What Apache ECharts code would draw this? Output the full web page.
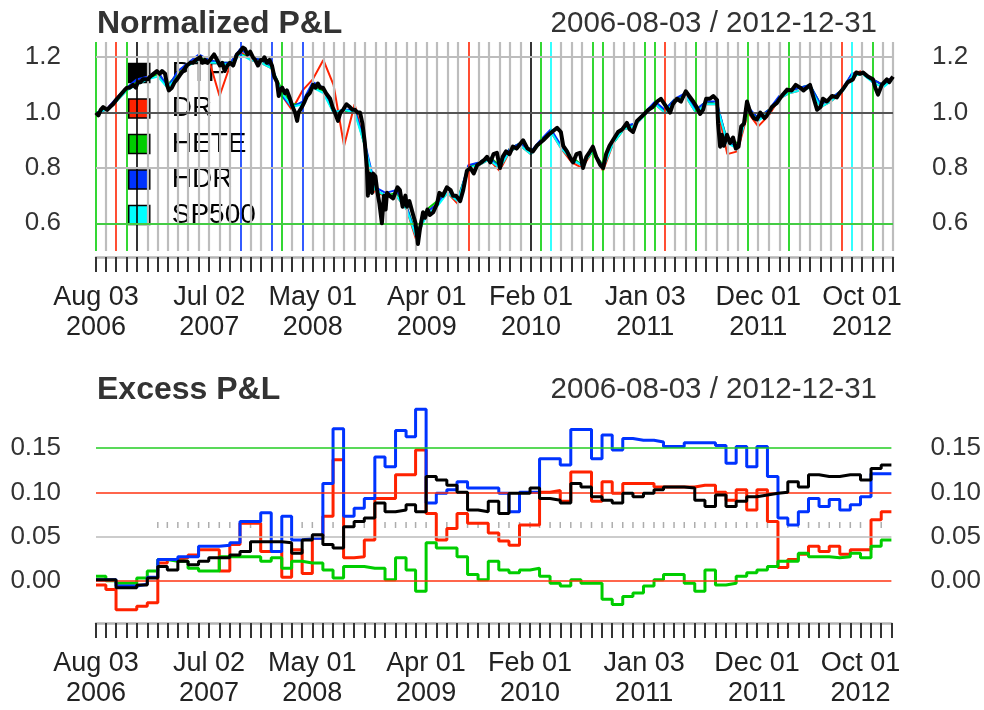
<!DOCTYPE html>
<html>
<head>
<meta charset="utf-8">
<script src="https://cdn.jsdelivr.net/npm/echarts@6/dist/echarts.min.js"></script>
<style>html,body{margin:0;background:#fff}#main{width:984px;height:710px}</style>
</head>
<body>
<div id="main"></div>
<script>
// 数据
var names = ['PTF', 'DR', 'HETE', 'HDR', 'SP500'];
var colors = {PTF: '#000000', DR: '#ff2200', HETE: '#00cd00', HDR: '#0033ff', SP500: '#00ffff'};
var dateRange = '2006-08-03 / 2012-12-31';
var labelDates = ['2006-08-03', '2007-07-02', '2008-05-01', '2009-04-01', '2010-02-01', '2011-01-03', '2011-12-01', '2012-10-01'];
var monNames = ['Jan','Feb','Mar','Apr','May','Jun','Jul','Aug','Sep','Oct','Nov','Dec'];

// month index -> strategy picked (coloured vertical lines)
var monthPick = {0:'HETE', 2:'DR', 3:'HETE', 4:'PTF', 14:'HDR', 17:'HDR', 18:'HETE', 20:'HDR',
    36:'DR', 42:'PTF', 43:'HETE', 44:'SP500', 48:'HETE', 49:'HETE', 53:'HETE', 54:'HETE',
    55:'DR', 58:'HETE', 63:'HETE', 67:'HETE', 72:'DR', 73:'SP500', 75:'HETE'};

// PTF normalized P&L
var ptfDates = [
    '2006-08-03','2006-08-10','2006-08-17','2006-08-24','2006-09-05','2006-09-13','2006-09-22','2006-10-04','2006-10-11',
    '2006-10-18','2006-10-25','2006-11-02','2006-11-10','2006-11-20','2006-11-28','2006-12-04','2006-12-12','2006-12-19',
    '2007-01-02','2007-01-09','2007-01-19','2007-01-29','2007-02-06','2007-02-13','2007-02-22','2007-02-28','2007-03-05',
    '2007-03-14','2007-03-22','2007-03-29','2007-04-09','2007-04-16','2007-04-27','2007-05-07','2007-05-15','2007-05-24',
    '2007-06-05','2007-06-12','2007-06-19','2007-06-27','2007-07-04','2007-07-16','2007-07-25','2007-08-02','2007-08-09',
    '2007-08-16','2007-08-24','2007-09-01','2007-09-10','2007-09-21','2007-09-30','2007-10-09','2007-10-15','2007-10-22',
    '2007-10-30','2007-11-07','2007-11-14','2007-11-22','2007-11-30','2007-12-07','2007-12-11','2007-12-18','2007-12-26',
    '2008-01-02','2008-01-09','2008-01-17','2008-01-22','2008-01-26','2008-02-01','2008-02-09','2008-02-15','2008-02-24',
    '2008-03-03','2008-03-10','2008-03-16','2008-03-20','2008-03-30','2008-04-07','2008-04-14','2008-04-22','2008-05-02',
    '2008-05-09','2008-05-16','2008-05-23','2008-05-31','2008-06-09','2008-06-21','2008-06-28','2008-07-05','2008-07-14',
    '2008-07-21','2008-07-29','2008-08-08','2008-08-18','2008-08-26','2008-09-02','2008-09-10','2008-09-17','2008-09-24',
    '2008-10-01','2008-10-07','2008-10-10','2008-10-14','2008-10-16','2008-10-22','2008-10-25','2008-11-01','2008-11-06',
    '2008-11-13','2008-11-20','2008-11-26','2008-12-01','2008-12-05','2008-12-12','2008-12-23',
    '2009-01-05','2009-01-12','2009-01-20','2009-01-28','2009-02-02','2009-02-09','2009-02-20','2009-02-27','2009-03-06',
    '2009-03-12','2009-03-21','2009-03-27','2009-04-03','2009-04-10','2009-04-20','2009-05-01','2009-05-08','2009-05-18',
    '2009-05-30','2009-06-10','2009-06-17','2009-06-26','2009-07-08','2009-07-17','2009-07-28','2009-08-07','2009-08-17',
    '2009-08-27','2009-09-08','2009-09-18','2009-09-25','2009-10-05','2009-10-14','2009-10-24','2009-11-02','2009-11-10',
    '2009-11-20','2009-11-30','2009-12-10','2009-12-21',
    '2010-01-09','2010-01-22','2010-02-07','2010-02-18','2010-03-09','2010-03-25','2010-04-19','2010-04-30','2010-05-07',
    '2010-05-18','2010-05-26','2010-06-05','2010-06-15','2010-06-25','2010-07-04','2010-07-14','2010-07-25','2010-08-02',
    '2010-08-12','2010-08-24','2010-09-01','2010-09-10','2010-09-20','2010-09-30','2010-10-15','2010-10-28','2010-11-10',
    '2010-11-18','2010-11-28','2010-12-10','2010-12-27',
    '2011-01-12','2011-01-25','2011-02-07','2011-02-18','2011-03-01','2011-03-17','2011-03-25','2011-04-06','2011-04-18',
    '2011-05-02','2011-05-12','2011-05-24','2011-06-03','2011-06-13','2011-06-22','2011-07-01','2011-07-12','2011-07-22',
    '2011-08-02','2011-08-05','2011-08-11','2011-08-16','2011-08-22','2011-08-31','2011-09-09','2011-09-18','2011-09-26',
    '2011-10-04','2011-10-12','2011-10-20','2011-10-29','2011-11-08','2011-11-18','2011-11-27','2011-12-07','2011-12-19',
    '2011-12-27',
    '2012-01-10','2012-01-25','2012-02-08','2012-02-24','2012-03-08','2012-03-20','2012-04-02','2012-04-12','2012-05-01',
    '2012-05-10','2012-05-22','2012-06-01','2012-06-08','2012-06-20','2012-07-05','2012-07-19','2012-07-27','2012-08-06',
    '2012-08-20','2012-09-04','2012-09-14','2012-09-25','2012-10-04','2012-10-18','2012-11-02','2012-11-09','2012-11-17',
    '2012-11-28','2012-12-13','2012-12-20','2012-12-31'];
var ptfValues = [
    1.00,0.99,1.01,1.02,1.01,1.02,1.03,1.05,1.06,
    1.07,1.08,1.09,1.09,1.10,1.09,1.11,1.11,1.12,
    1.12,1.13,1.14,1.15,1.14,1.15,1.14,1.10,1.08,
    1.09,1.11,1.12,1.14,1.15,1.17,1.18,1.18,1.19,
    1.20,1.18,1.19,1.18,1.19,1.21,1.19,1.17,1.18,
    1.15,1.17,1.18,1.17,1.21,1.22,1.235,1.23,1.21,
    1.22,1.20,1.19,1.17,1.19,1.19,1.20,1.18,1.19,
    1.17,1.13,1.11,1.06,1.08,1.09,1.07,1.08,1.05,
    1.02,1.00,0.97,1.00,1.02,1.04,1.06,1.07,1.10,
    1.09,1.105,1.09,1.09,1.07,1.05,1.02,1.00,0.97,
    1.00,1.01,1.03,1.02,1.01,1.01,1.00,1.00,0.96,
    0.89,0.80,0.70,0.78,0.73,0.71,0.78,0.77,0.72,
    0.67,0.60,0.70,0.65,0.71,0.70,0.69,
    0.73,0.72,0.66,0.70,0.66,0.68,0.63,0.60,0.525,
    0.58,0.64,0.62,0.65,0.63,0.64,0.67,0.71,0.70,
    0.73,0.72,0.70,0.70,0.68,0.72,0.79,0.80,0.78,
    0.81,0.82,0.83,0.84,0.82,0.85,0.855,0.80,0.84,
    0.86,0.85,0.877,0.87,
    0.90,0.87,0.86,0.88,0.90,0.92,0.945,0.93,0.88,
    0.86,0.84,0.82,0.85,0.855,0.80,0.84,0.86,0.877,
    0.84,0.81,0.80,0.85,0.88,0.90,0.93,0.94,0.963,
    0.94,0.93,0.97,0.99,
    1.01,1.02,1.04,1.05,1.03,1.00,1.03,1.05,1.04,
    1.077,1.06,1.04,1.02,0.995,1.01,1.05,1.05,1.06,
    1.045,0.96,0.877,0.92,0.88,0.92,0.89,0.91,0.87,
    0.877,0.95,0.96,1.04,1.00,0.98,0.975,1.00,0.98,
    0.99,
    1.02,1.035,1.06,1.083,1.08,1.10,1.09,1.08,1.10,
    1.06,1.01,1.02,1.05,1.04,1.06,1.055,1.07,1.085,
    1.11,1.12,1.145,1.14,1.145,1.13,1.12,1.09,1.065,
    1.10,1.12,1.11,1.13];

// other strategies, monthly (77 month starts + 2012-12-31)
var drTop = [1.00,1.01,1.05,1.09,1.11,1.13,1.14,1.09,1.14,1.18,
    1.20,1.19,1.06,1.17,1.22,1.19,1.18,1.16,1.06,1.01,
    1.08,1.12,1.19,1.10,0.88,1.03,0.88,0.71,0.70,0.70,
    0.65,0.54,0.64,0.67,0.71,0.67,0.79,0.81,0.83,0.79,
    0.86,0.88,0.85,0.89,0.93,0.87,0.82,0.80,0.86,0.79,
    0.89,0.94,0.95,0.99,1.03,1.00,1.04,1.06,1.00,1.03,
    1.03,0.85,0.86,1.00,0.95,0.99,1.05,1.07,1.08,1.10,
    1.02,1.04,1.07,1.14,1.15,1.12,1.10,1.13];
var heteTop = [1.00,1.01,1.04,1.08,1.11,1.12,1.14,1.10,1.14,1.17,
    1.20,1.19,1.18,1.18,1.21,1.20,1.19,1.16,1.08,1.03,
    1.03,1.09,1.08,1.00,1.00,1.01,0.88,0.72,0.70,0.71,
    0.66,0.56,0.65,0.68,0.72,0.69,0.80,0.82,0.84,0.81,
    0.87,0.89,0.86,0.89,0.93,0.88,0.84,0.81,0.86,0.81,
    0.89,0.94,0.96,1.00,1.03,1.01,1.05,1.06,1.01,1.04,
    1.03,0.90,0.89,1.01,0.98,1.01,1.05,1.08,1.09,1.10,
    1.03,1.05,1.08,1.13,1.14,1.12,1.10,1.12];
var hdrTop = [1.00,1.01,1.05,1.09,1.12,1.13,1.15,1.09,1.15,1.18,
    1.21,1.19,1.18,1.18,1.23,1.20,1.19,1.17,1.06,1.02,
    1.04,1.11,1.09,1.00,1.01,1.01,0.89,0.73,0.71,0.72,
    0.66,0.55,0.64,0.67,0.72,0.68,0.81,0.82,0.84,0.80,
    0.87,0.89,0.86,0.90,0.94,0.88,0.83,0.81,0.87,0.80,
    0.90,0.95,0.96,1.00,1.04,1.01,1.05,1.07,1.01,1.04,
    1.04,0.89,0.88,1.02,0.98,1.01,1.06,1.08,1.09,1.10,
    1.03,1.05,1.08,1.14,1.14,1.12,1.10,1.13];
var spTop = [1.00,1.01,1.04,1.08,1.10,1.12,1.13,1.09,1.13,1.17,
    1.19,1.18,1.18,1.17,1.21,1.19,1.18,1.16,1.07,1.02,
    1.03,1.09,1.07,1.00,1.01,1.00,0.88,0.72,0.70,0.70,
    0.65,0.55,0.63,0.66,0.71,0.68,0.80,0.81,0.83,0.80,
    0.86,0.88,0.85,0.89,0.93,0.87,0.83,0.81,0.86,0.80,
    0.89,0.94,0.95,0.99,1.03,1.00,1.04,1.06,1.00,1.03,
    1.03,0.89,0.87,1.01,0.97,1.00,1.05,1.07,1.08,1.09,
    1.02,1.04,1.07,1.13,1.14,1.11,1.09,1.12];

// excess P&L, monthly steps
var ptfEx = [0.001,0.001,-0.008,-0.008,-0.005,0.003,0.016,0.012,0.022,0.018,
    0.022,0.026,0.026,0.029,0.033,0.044,0.044,0.044,0.043,0.031,
    0.046,0.052,0.041,0.037,0.061,0.067,0.071,0.088,0.078,0.080,
    0.086,0.078,0.118,0.114,0.108,0.100,0.080,0.078,0.090,0.076,
    0.099,0.099,0.105,0.093,0.091,0.088,0.110,0.106,0.095,0.091,
    0.088,0.099,0.095,0.099,0.103,0.106,0.106,0.105,0.091,0.084,
    0.097,0.084,0.090,0.095,0.097,0.099,0.100,0.112,0.106,0.120,
    0.118,0.118,0.120,0.120,0.114,0.127,0.131,0.131];
var drEx = [-0.005,-0.010,-0.033,-0.033,-0.029,-0.025,0.020,0.024,0.026,0.029,
    0.035,0.035,0.011,0.041,0.065,0.065,0.033,0.033,0.004,0.035,
    0.008,0.048,0.073,0.137,0.026,0.027,0.046,0.093,0.093,0.120,
    0.120,0.148,0.076,0.046,0.059,0.076,0.065,0.065,0.054,0.045,
    0.040,0.063,0.063,0.100,0.102,0.090,0.123,0.123,0.090,0.112,
    0.099,0.110,0.110,0.110,0.106,0.106,0.106,0.106,0.108,0.108,
    0.100,0.091,0.103,0.080,0.103,0.067,0.015,0.024,0.030,0.039,
    0.033,0.039,0.030,0.035,0.035,0.069,0.078,0.078];
var heteEx = [0.005,0.000,-0.003,-0.003,0.003,0.011,0.024,0.022,0.022,0.014,
    0.011,0.011,0.027,0.027,0.027,0.027,0.022,0.026,0.014,0.022,
    0.020,0.020,0.012,0.003,0.016,0.016,0.014,0.014,0.001,0.026,
    0.012,-0.012,0.043,0.037,0.037,0.027,0.007,0.001,0.022,0.012,
    0.009,0.012,0.014,0.005,-0.003,-0.006,0.001,-0.003,-0.003,-0.021,
    -0.027,-0.018,-0.014,-0.006,0.001,0.007,0.007,-0.003,-0.012,0.012,
    -0.005,-0.003,0.005,0.009,0.012,0.016,0.022,0.022,0.031,0.027,
    0.027,0.026,0.027,0.031,0.026,0.039,0.046,0.046];
var hdrEx = [0.001,0.001,-0.006,-0.006,-0.004,0.004,0.024,0.024,0.027,0.027,
    0.039,0.039,0.040,0.043,0.067,0.067,0.077,0.033,0.073,0.046,
    0.048,0.048,0.110,0.172,0.073,0.082,0.093,0.140,0.129,0.170,
    0.163,0.194,0.088,0.099,0.103,0.112,0.105,0.105,0.105,0.099,
    0.078,0.100,0.100,0.138,0.138,0.131,0.171,0.171,0.138,0.165,
    0.148,0.161,0.159,0.159,0.157,0.152,0.152,0.156,0.156,0.156,
    0.153,0.133,0.152,0.129,0.152,0.118,0.071,0.063,0.078,0.093,
    0.084,0.092,0.080,0.086,0.095,0.121,0.121,0.121];
var dotLevel = 0.063;

var topTicks = [0.6, 0.8, 1.0, 1.2];
var botTicks = [0.00, 0.05, 0.10, 0.15];

// 日期
function ts(s) { var p = s.split('-'); return new Date(+p[0], p[1] - 1, +p[2]).getTime(); }
var startTs = ts('2006-08-03'), endTs = ts('2012-12-31');
var monthTs = [startTs];
for (var i = 1; i < 77; i++) monthTs.push(new Date(2006, 7 + i, 1).getTime());
var monthAll = monthTs.concat([endTs]);
var labelTs = labelDates.map(ts);

function pairs(xs, ys) { return xs.map(function (x, i) { return [x, ys[i]]; }); }
function pad(n) { return (n < 10 ? '0' : '') + n; }

var sans = '"Liberation Sans", Arial, sans-serif';

function xAxisFor(idx, off) {
    return {
        type: 'value', gridIndex: idx, min: startTs, max: endTs, offset: off, scale: true,
        axisLine: {show: true, onZero: false, lineStyle: {color: '#b5b5b5', width: 2.5}},
        axisTick: {show: true, customValues: monthAll, length: 15, lineStyle: {color: '#333', width: 2}},
        axisLabel: {
            customValues: labelTs, margin: 26, color: '#222', fontFamily: sans, fontSize: 27, lineHeight: 30,
            formatter: function (v) {
                var d = new Date(v);
                return monNames[d.getMonth()] + ' ' + pad(d.getDate()) + '\n' + d.getFullYear();
            }
        },
        splitLine: {show: false}
    };
}
function yAxisFor(idx, pos, min, max, ticks, dec) {
    return {
        type: 'value', gridIndex: idx, position: pos, min: min, max: max,
        axisLine: {show: false}, axisTick: {show: false}, splitLine: {show: false},
        axisLabel: {customValues: ticks, margin: pos === 'left' ? 35 : 39, color: '#333', fontFamily: sans, fontSize: 26,
            formatter: function (v) { return v.toFixed(dec); }}
    };
}

var vLines = monthAll.map(function (t, i) {
    var p = monthPick[i];
    return {xAxis: t, lineStyle: {color: p ? colors[p] : '#bdbdbd', width: p ? 1.6 : 2.2, type: 'solid'}};
});
function hLine(v, c, w) { return {yAxis: v, lineStyle: {color: c, width: w, type: 'solid'}}; }

var series = [
    {type: 'line', xAxisIndex: 0, yAxisIndex: 0, data: [], z: 1,
     markLine: {silent: true, symbol: ['none', 'none'], label: {show: false}, data: vLines}},
    {type: 'line', xAxisIndex: 0, yAxisIndex: 0, data: [], z: 2,
     markLine: {silent: true, symbol: ['none', 'none'], label: {show: false},
        data: [hLine(1.2, '#bdbdbd', 2.2), hLine(1.0, '#555555', 2.2), hLine(0.8, '#bdbdbd', 2.2), hLine(0.6, '#44cc44', 2.2)]}},
    {type: 'line', xAxisIndex: 1, yAxisIndex: 2, data: [], z: 2,
     markLine: {silent: true, symbol: ['none', 'none'], label: {show: false},
        data: [hLine(0.15, '#22cc22', 1.5), hLine(0.10, '#ff3311', 1.5), hLine(0.05, '#bbbbbb', 1.5), hLine(0.0, '#ff3311', 1.5)]}},
    {type: 'scatter', xAxisIndex: 1, yAxisIndex: 2, z: 2, symbol: 'rect', symbolSize: [1.5, 6],
     itemStyle: {color: '#999'}, silent: true,
     data: monthTs.slice(6).map(function (t) { return [t, dotLevel]; })}
];

var topData = {DR: drTop, HETE: heteTop, HDR: hdrTop, SP500: spTop};
['DR', 'HETE', 'HDR', 'SP500'].forEach(function (n) {
    series.push({name: n, type: 'line', xAxisIndex: 0, yAxisIndex: 0, data: pairs(monthAll, topData[n]),
        showSymbol: false, z: 3, lineStyle: {width: 2, color: colors[n]}, itemStyle: {color: colors[n]}});
});
series.push({name: 'PTF', type: 'line', xAxisIndex: 0, yAxisIndex: 0, data: pairs(ptfDates.map(ts), ptfValues),
    showSymbol: false, z: 5, lineStyle: {width: 4, color: '#000', join: 'round'}, itemStyle: {color: '#000'}});

var botData = {DR: drEx, HETE: heteEx, HDR: hdrEx, PTF: ptfEx};
['DR', 'HETE', 'HDR', 'PTF'].forEach(function (n) {
    series.push({name: n, type: 'line', step: 'end', xAxisIndex: 1, yAxisIndex: 2, data: pairs(monthAll, botData[n]),
        showSymbol: false, z: n === 'PTF' ? 5 : 3, lineStyle: {width: 3, color: colors[n]}, itemStyle: {color: colors[n]}});
});

var titleFont = {fontFamily: sans, fontWeight: 'bold', fontSize: 32, color: '#333'};
var rangeFont = {fontFamily: sans, fontWeight: 'normal', fontSize: 29.5, color: '#333'};

var myChart = echarts.init(document.getElementById('main'));
option = {
    animation: false,
    backgroundColor: '#fff',
    title: [
        {text: 'Normalized P&L', left: 97, top: 8, padding: 0, textStyle: titleFont},
        {text: dateRange, right: 107, top: 9, padding: 0, textStyle: rangeFont},
        {text: 'Excess P&L', left: 97, top: 374, padding: 0, textStyle: titleFont},
        {text: dateRange, right: 107, top: 375, padding: 0, textStyle: rangeFont}
    ],
    legend: {
        data: names, orient: 'vertical', left: 123, top: 54, itemWidth: 21, itemHeight: 19, itemGap: 7.5,
        icon: 'rect', selectedMode: false, z: 2,
        itemStyle: {borderColor: '#000', borderWidth: 1.5},
        textStyle: {fontFamily: sans, fontSize: 28, lineHeight: 28, color: '#000', padding: [0, 0, 0, 17]}
    },
    grid: [
        {left: 96, right: 91, top: 42, height: 209},
        {left: 96, right: 91, top: 404, height: 212}
    ],
    xAxis: [xAxisFor(0, 6), xAxisFor(1, 7)],
    yAxis: [
        yAxisFor(0, 'left', 0.5, 1.255, topTicks, 1),
        yAxisFor(0, 'right', 0.5, 1.255, topTicks, 1),
        yAxisFor(1, 'left', -0.04, 0.2, botTicks, 2),
        yAxisFor(1, 'right', -0.04, 0.2, botTicks, 2)
    ],
    series: series
};
myChart.setOption(option);
</script>
</body>
</html>
